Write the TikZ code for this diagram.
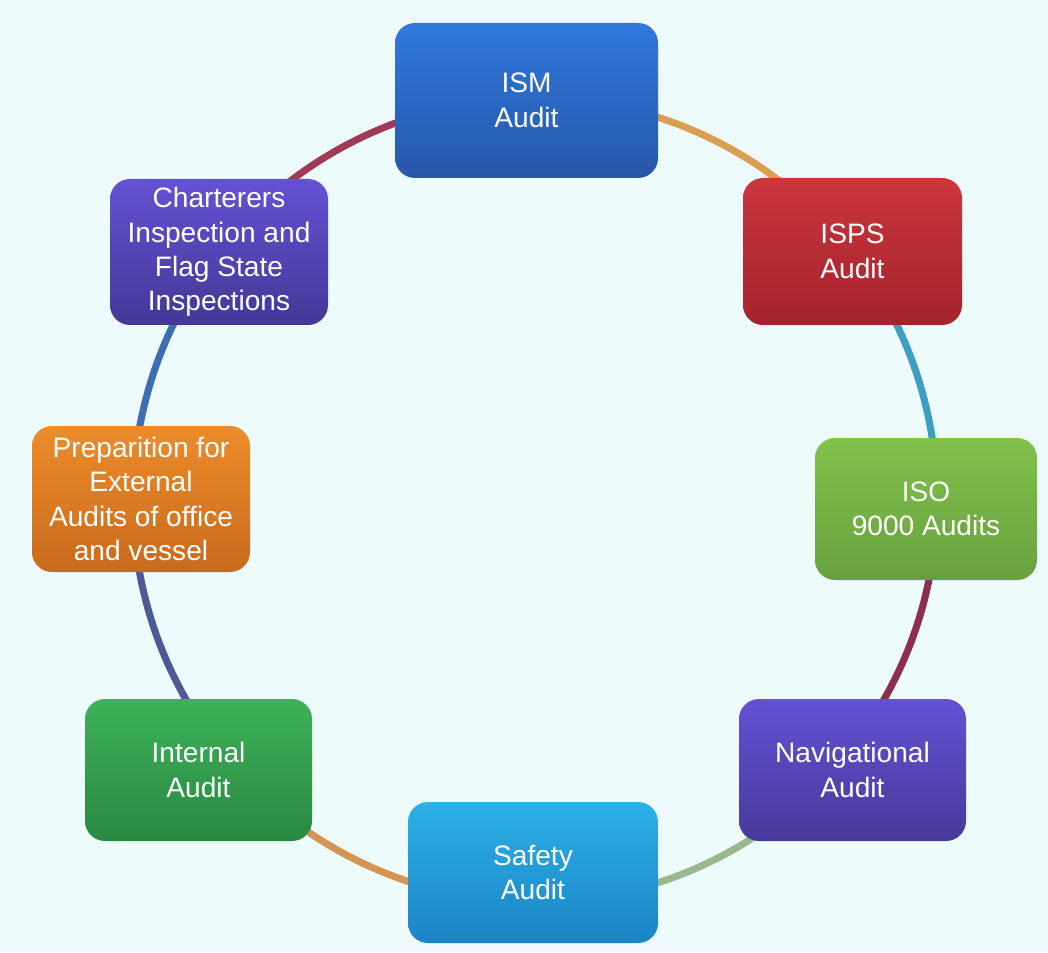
\documentclass[tikz,border=0pt]{standalone}
\usepackage{fontspec}
\setmainfont{Liberation Sans}
\usepackage{xcolor}
\usepackage{tikz}
\usetikzlibrary{calc}
\definecolor{BgCyan}{HTML}{EDFBFC}
\definecolor{IsmTop}{HTML}{3178DE}
\definecolor{IsmBot}{HTML}{2657A9}
\definecolor{IspsTop}{HTML}{CB363C}
\definecolor{IspsBot}{HTML}{A4222E}
\definecolor{IsoTop}{HTML}{80C24C}
\definecolor{IsoBot}{HTML}{68A03E}
\definecolor{NavTop}{HTML}{6252D4}
\definecolor{NavBot}{HTML}{48399A}
\definecolor{SafeTop}{HTML}{2CB1E6}
\definecolor{SafeBot}{HTML}{1B84C6}
\definecolor{IntTop}{HTML}{3DB257}
\definecolor{IntBot}{HTML}{2A8843}
\definecolor{PrepTop}{HTML}{EC8C2A}
\definecolor{PrepBot}{HTML}{C96A1E}
\definecolor{ChartTop}{HTML}{6452D4}
\definecolor{ChartBot}{HTML}{433896}
\definecolor{ArcTan}{HTML}{D8A050}
\definecolor{ArcCyan}{HTML}{3E9EC0}
\definecolor{ArcMaroon}{HTML}{8C2F4E}
\definecolor{ArcSage}{HTML}{9AB88E}
\definecolor{ArcOrange}{HTML}{D49452}
\definecolor{ArcSlate}{HTML}{4E5A96}
\definecolor{ArcBlue}{HTML}{3F6DB3}
\definecolor{ArcRose}{HTML}{A03A56}

\begin{document}
\begin{tikzpicture}[every node/.style={font=\fontsize{8}{9.8}\selectfont},
          ring/.style={line width=2pt},
          audit/.style={rounded corners=0.2cm, align=center, text=white,
            inner sep=0pt, draw=none}]
        \useasboundingbox (0,0) rectangle (10.48,9.52);
        \fill[BgCyan] (0,0) rectangle (10.48,9.52);
        \coordinate (o) at (5.35,4.52);
        % points on the ring behind each box
        \coordinate (kism) at ($(o)+(91:4.02)$);
        \coordinate (kisps) at ($(o)+(38:4.02)$);
        \coordinate (kiso) at ($(o)+(-1.3:4.02)$);
        \coordinate (knav) at ($(o)+(-40.4:4.02)$);
        \coordinate (ksafe) at ($(o)+(-90:4.02)$);
        \coordinate (kint) at ($(o)+(-141.3:4.02)$);
        \coordinate (kprep) at ($(o)+(-180:4.02)$);
        \coordinate (kchart) at ($(o)+(-218:4.02)$);
        \draw[ring,ArcTan] (kism) arc[start angle=91, end angle=38, radius=4.02];
        \draw[ring,ArcCyan] (kisps) arc[start angle=38, end angle=-1.3, radius=4.02];
        \draw[ring,ArcMaroon] (kiso) arc[start angle=-1.3, end angle=-40.4, radius=4.02];
        \draw[ring,ArcSage] (knav) arc[start angle=-40.4, end angle=-90, radius=4.02];
        \draw[ring,ArcOrange] (ksafe) arc[start angle=-90, end angle=-141.3, radius=4.02];
        \draw[ring,ArcSlate] (kint) arc[start angle=-141.3, end angle=-180, radius=4.02];
        \draw[ring,ArcBlue] (kprep) arc[start angle=-180, end angle=-218, radius=4.02];
        \draw[ring,ArcRose] (kchart) arc[start angle=-218, end angle=-269, radius=4.02];
        \node[audit, top color=IsmTop, bottom color=IsmBot,
          minimum width=2.63cm, minimum height=1.55cm]
        (ism) at (5.265,8.515) {ISM\\ Audit};
        \node[audit, top color=IspsTop, bottom color=IspsBot,
          minimum width=2.19cm, minimum height=1.47cm]
        (isps) at (8.525,7.005) {ISPS\\ Audit};
        \node[audit, top color=IsoTop, bottom color=IsoBot,
          minimum width=2.22cm, minimum height=1.42cm]
        (iso) at (9.26,4.43) {ISO\\ 9000 Audits};
        \node[audit, top color=NavTop, bottom color=NavBot,
          minimum width=2.27cm, minimum height=1.42cm]
        (nav) at (8.525,1.82) {Navigational\\ Audit};
        \node[audit, top color=SafeTop, bottom color=SafeBot,
          minimum width=2.50cm, minimum height=1.41cm]
        (safe) at (5.33,0.795) {Safety\\ Audit};
        \node[audit, top color=IntTop, bottom color=IntBot,
          minimum width=2.27cm, minimum height=1.42cm]
        (int) at (1.985,1.82) {Internal\\ Audit};
        \node[audit, top color=PrepTop, bottom color=PrepBot,
          minimum width=2.18cm, minimum height=1.46cm]
        (prep) at (1.41,4.53) {Preparition for\\ External\\ Audits of office\\ and vessel};
        \node[audit, top color=ChartTop, bottom color=ChartBot,
          minimum width=2.18cm, minimum height=1.46cm]
        (chart) at (2.19,7.00) {Charterers\\ Inspection and\\ Flag State\\ Inspections};
      \end{tikzpicture}
\end{document}
